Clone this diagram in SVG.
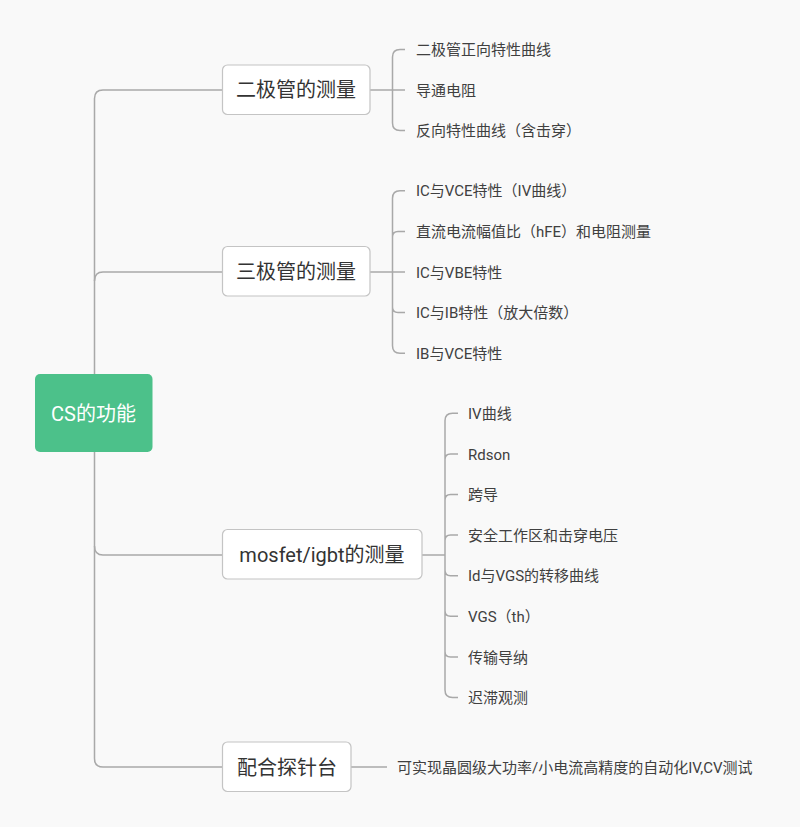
<svg xmlns="http://www.w3.org/2000/svg" width="800" height="827" viewBox="0 0 800 827">
<style>
.bg{fill:#f9f9f9}
.ln{fill:none;stroke:#a9a9a9;stroke-width:1.5}
.box{fill:#ffffff;stroke:#c4c4c4;stroke-width:1.2}
.root{fill:#4cc18a}
.t1{font-family:Roboto,"Noto Sans CJK SC",sans-serif;font-size:20px;fill:#333333;text-anchor:middle}
.t0{font-family:Roboto,"Noto Sans CJK SC",sans-serif;font-size:20px;fill:#ffffff;text-anchor:middle}
.t2{font-family:Roboto,"Noto Sans CJK SC",sans-serif;font-size:15px;fill:#404040}
</style>
<rect class="bg" x="0" y="0" width="800" height="827"/>
<g id="connectors">
<path class="ln" d="M222,90 L103,90 Q94.5,90 94.5,98.5 L94.5,758.5 Q94.5,767 103,767 L222,767"/>
<path class="ln" d="M94.5,281 Q94.5,272 103,272 L222,272"/>
<path class="ln" d="M94.5,546 Q94.5,555 103,555 L222,555"/>
<path class="ln" d="M370,90 L405,90 M405,49.5 L400,49.5 Q392.5,49.5 392.5,57 L392.5,123 Q392.5,130.5 400,130.5 L405,130.5"/>
<path class="ln" d="M370,272 L405,272 M405,190.7 L400,190.7 Q392.5,190.7 392.5,198.2 L392.5,345.8 Q392.5,353.3 400,353.3 L405,353.3 M392.5,237 Q392.5,231.5 398,231.5 L405,231.5 M392.5,307 Q392.5,312.5 398,312.5 L405,312.5"/>
<path class="ln" d="M422,555 L445,555 M458,413.3 L452.5,413.3 Q445,413.3 445,420.8 L445,690 Q445,697.5 452.5,697.5 L458,697.5 M445,459.4 Q445,453.9 450.5,453.9 L458,453.9 M445,500 Q445,494.5 450.5,494.5 L458,494.5 M445,540.6 Q445,535.1 450.5,535.1 L458,535.1 M445,570.2 Q445,575.7 450.5,575.7 L458,575.7 M445,610.8 Q445,616.3 450.5,616.3 L458,616.3 M445,651.4 Q445,656.9 450.5,656.9 L458,656.9"/>
<path class="ln" d="M351,767 L387,767"/>
</g>
<g id="root">
<rect class="root" x="35" y="374" width="117.5" height="78" rx="5"/>
<text class="t0" x="93.5" y="421">CS的功能</text>
</g>
<g id="n1">
<rect class="box" x="222.5" y="65" width="147.5" height="49.5" rx="5"/>
<text class="t1" x="296" y="97">二极管的测量</text>
</g>
<g id="n2">
<rect class="box" x="222.5" y="246.5" width="147.5" height="49.5" rx="5"/>
<text class="t1" x="296" y="279">三极管的测量</text>
</g>
<g id="n3">
<rect class="box" x="222.5" y="529.5" width="199.5" height="49.5" rx="5"/>
<text class="t1" x="322" y="562">mosfet/igbt的测量</text>
</g>
<g id="n4">
<rect class="box" x="222.5" y="742" width="128.5" height="49.5" rx="5"/>
<text class="t1" x="287" y="774.5">配合探针台</text>
</g>
<g id="leaves1">
<text class="t2" x="416" y="55">二极管正向特性曲线</text>
<text class="t2" x="416" y="95.5">导通电阻</text>
<text class="t2" x="416" y="136">反向特性曲线（含击穿）</text>
</g>
<g id="leaves2">
<text class="t2" x="416" y="196">IC与VCE特性（IV曲线）</text>
<text class="t2" x="416" y="237">直流电流幅值比（hFE）和电阻测量</text>
<text class="t2" x="416" y="277.5">IC与VBE特性</text>
<text class="t2" x="416" y="318">IC与IB特性（放大倍数）</text>
<text class="t2" x="416" y="359">IB与VCE特性</text>
</g>
<g id="leaves3">
<text class="t2" x="468" y="419">IV曲线</text>
<text class="t2" x="468" y="459.5">Rdson</text>
<text class="t2" x="468" y="500">跨导</text>
<text class="t2" x="468" y="540.5">安全工作区和击穿电压</text>
<text class="t2" x="468" y="581">Id与VGS的转移曲线</text>
<text class="t2" x="468" y="621.5">VGS（th）</text>
<text class="t2" x="468" y="662.5">传输导纳</text>
<text class="t2" x="468" y="703">迟滞观测</text>
</g>
<g id="leaf4">
<text class="t2" x="397" y="772.5">可实现晶圆级大功率/小电流高精度的自动化IV,CV测试</text>
</g>
</svg>
